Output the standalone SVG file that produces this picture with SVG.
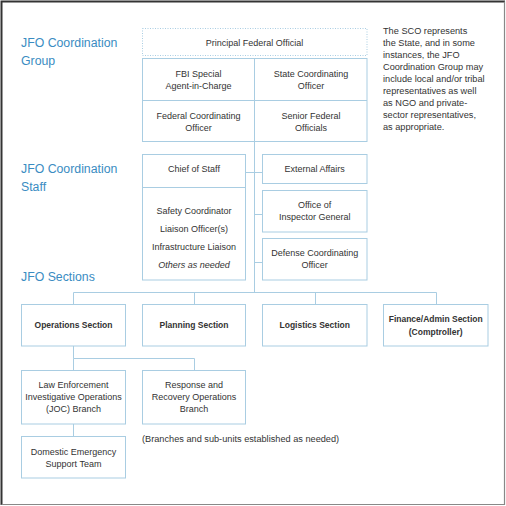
<svg xmlns="http://www.w3.org/2000/svg" width="506" height="506" viewBox="0 0 506 506">
<style>
.box{fill:#fff;stroke:#a9cde2;stroke-width:1}
.ln{fill:none;stroke:#a9cde2;stroke-width:1}
.t{font-family:"Liberation Sans",Arial,sans-serif;font-size:9px;fill:#333;text-anchor:middle}
.b{font-weight:bold;font-size:8.5px}
.h{font-family:"Liberation Sans",Arial,sans-serif;font-size:12.3px;fill:#3a8cc2}
.n{font-family:"Liberation Sans",Arial,sans-serif;font-size:9.2px;fill:#333}
</style>
<rect x="0" y="0" width="506" height="506" fill="#fff"/>
<path d="M1.5 505 V1.5 H505" fill="none" stroke="#333" stroke-width="2"/>
<path d="M504.5 1.5 V504.5 H1.5" fill="none" stroke="#888" stroke-width="1.2"/>

<g id="headings">
<text class="h" x="21" y="46.5">JFO Coordination</text>
<text class="h" x="21" y="64.5">Group</text>
<text class="h" x="21" y="172.5">JFO Coordination</text>
<text class="h" x="21" y="190.5">Staff</text>
<text class="h" x="21" y="280.5">JFO Sections</text>
</g>

<g id="note">
<text class="n" x="383" y="34">The SCO represents</text>
<text class="n" x="383" y="46">the State, and in some</text>
<text class="n" x="383" y="58">instances, the JFO</text>
<text class="n" x="383" y="70">Coordination Group may</text>
<text class="n" x="383" y="82">include local and/or tribal</text>
<text class="n" x="383" y="94">representatives as well</text>
<text class="n" x="383" y="106">as NGO and private-</text>
<text class="n" x="383" y="118">sector representatives,</text>
<text class="n" x="383" y="130">as appropriate.</text>
</g>

<g id="connectors">
<path class="ln" d="M254.5 100 V292.5"/>
<path class="ln" d="M245.5 172.5 H262.5 M254.5 214.5 H262.5 M254.5 262.5 H262.5"/>
<path class="ln" d="M73.5 304 V292.5 H436.5 V304 M194.5 292.5 V304 M315.5 292.5 V304"/>
<path class="ln" d="M73.5 346 V358.5 H194.5 V370 M73.5 358.5 V370"/>
<path class="ln" d="M73.5 424 V436"/>
</g>

<g id="principal">
<rect x="142.5" y="28.5" width="224.5" height="27" fill="#fff" stroke="#a9cde2" stroke-width="1" stroke-dasharray="1 1.5"/>
<text class="t" x="254.5" y="45.5">Principal Federal Official</text>
</g>

<g id="group-grid">
<rect class="box" x="142.5" y="58.5" width="224.5" height="83"/>
<path class="ln" d="M142.5 100.5 H367 M254.5 58.5 V141.5"/>
</g>
<g id="fbi"><text class="t" x="198.5" y="76.5">FBI Special</text><text class="t" x="198.5" y="88.5">Agent-in-Charge</text></g>
<g id="sco"><text class="t" x="311" y="76.5">State Coordinating</text><text class="t" x="311" y="88.5">Officer</text></g>
<g id="fco"><text class="t" x="198.5" y="118.5">Federal Coordinating</text><text class="t" x="198.5" y="130.5">Officer</text></g>
<g id="sfo"><text class="t" x="311" y="118.5">Senior Federal</text><text class="t" x="311" y="130.5">Officials</text></g>

<g id="chief">
<rect class="box" x="142.5" y="154.5" width="103" height="125.5"/>
<path class="ln" d="M142.5 187.5 H245.5"/>
<text class="t" x="194" y="172">Chief of Staff</text>
<text class="t" x="194" y="214">Safety Coordinator</text>
<text class="t" x="194" y="232">Liaison Officer(s)</text>
<text class="t" x="194" y="250">Infrastructure Liaison</text>
<text class="t" x="194" y="268" font-style="italic">Others as needed</text>
</g>

<g id="external">
<rect class="box" x="262.5" y="154.5" width="104.5" height="29"/>
<text class="t" x="314.7" y="172">External Affairs</text>
</g>
<g id="inspector">
<rect class="box" x="262.5" y="190.5" width="104.5" height="41.5"/>
<text class="t" x="314.7" y="208">Office of</text>
<text class="t" x="314.7" y="220">Inspector General</text>
</g>
<g id="defense">
<rect class="box" x="262.5" y="238.5" width="104.5" height="41.5"/>
<text class="t" x="314.7" y="256">Defense Coordinating</text>
<text class="t" x="314.7" y="268">Officer</text>
</g>

<g id="operations">
<rect class="box" x="21.5" y="304.5" width="104" height="41.5"/>
<text class="t b" x="73.5" y="328">Operations Section</text>
</g>
<g id="planning">
<rect class="box" x="142.5" y="304.5" width="103" height="41.5"/>
<text class="t b" x="194" y="328">Planning Section</text>
</g>
<g id="logistics">
<rect class="box" x="262.5" y="304.5" width="104.5" height="41.5"/>
<text class="t b" x="314.7" y="328">Logistics Section</text>
</g>
<g id="finance">
<rect class="box" x="383.5" y="304.5" width="104.5" height="41.5"/>
<text class="t b" x="435.7" y="322">Finance/Admin Section</text>
<text class="t b" x="435.7" y="334.5">(Comptroller)</text>
</g>

<g id="law">
<rect class="box" x="21.5" y="370.5" width="104" height="53.5"/>
<text class="t" x="73.5" y="388">Law Enforcement</text>
<text class="t" x="73.5" y="400">Investigative Operations</text>
<text class="t" x="73.5" y="412">(JOC) Branch</text>
</g>
<g id="response">
<rect class="box" x="142.5" y="370.5" width="103" height="53.5"/>
<text class="t" x="194" y="388">Response and</text>
<text class="t" x="194" y="400">Recovery Operations</text>
<text class="t" x="194" y="412">Branch</text>
</g>
<g id="dest">
<rect class="box" x="21.5" y="436.5" width="104" height="41.5"/>
<text class="t" x="73.5" y="455">Domestic Emergency</text>
<text class="t" x="73.5" y="467">Support Team</text>
</g>

<g id="branches-note">
<text class="n" x="142" y="442" font-size="8.8">(Branches and sub-units established as needed)</text>
</g>
</svg>
